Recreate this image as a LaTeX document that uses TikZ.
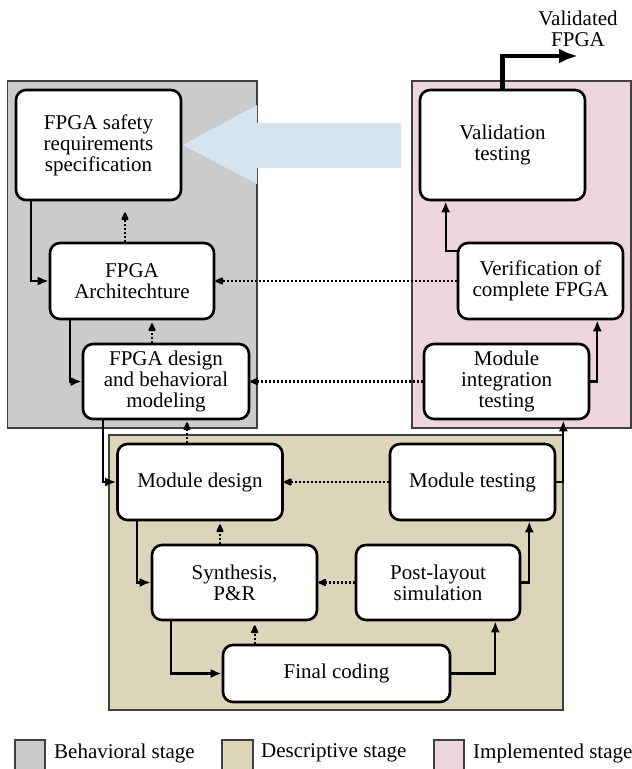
\documentclass[tikz,border=0pt]{standalone}
\usepackage{fontspec}
\setmainfont{Liberation Serif}
\usetikzlibrary{arrows.meta,calc}
\newcommand\nfont{\fontsize{21}{21}\selectfont}
\definecolor{behgray}{RGB}{203,203,203}
\definecolor{destan}{RGB}{220,213,186}
\definecolor{imppink}{RGB}{237,213,220}
\definecolor{bluearr}{RGB}{214,228,240}
\begin{document}
\begin{tikzpicture}[x=1pt,y=-1pt,
  box/.style={draw, line width=2.6pt, rounded corners=10pt, fill=white, align=center, inner sep=0pt, font=\nfont},
  stage/.style={draw=black!75, line width=1.1pt},
  conn/.style={line width=2.2pt, -{Latex[length=11pt,width=9pt]}},
  dotconn/.style={line width=2.2pt, dash pattern=on 2pt off 2pt, -{Latex[length=11pt,width=9pt,round=false]}, shorten >=3pt},
  lbl/.style={font=\nfont, inner sep=0pt, align=center}
]
\useasboundingbox (0,0) rectangle (632,769);
% stage areas
\fill[white] (0,0) rectangle (632,769);
\draw[stage, fill=behgray] (7.5,81) rectangle (257,428);
\draw[stage, fill=imppink] (412,81) rectangle (631,428);
\draw[stage, fill=destan] (109,435) rectangle (563,710);
% blue arrow
\fill[bluearr] (401,123) -- (257,123) -- (257,105) -- (183,145) -- (257,184) -- (257,168) -- (401,168) -- cycle;

% nodes
\node[box, minimum width=165pt, minimum height=110pt] (spec) at (98.5,145) {FPGA safety\\requirements\\specification};
\node[box, minimum width=164pt, minimum height=76pt] (arch) at (132,281) {FPGA\\Architechture};
\node[box, minimum width=166pt, minimum height=75pt] (design) at (166,381.5) {FPGA design\\and behavioral\\modeling};
\node[box, minimum width=165pt, minimum height=110pt] (valid) at (502.5,145) {Validation\\testing};
\node[box, minimum width=165pt, minimum height=76pt] (verif) at (540.5,281) {Verification of\\complete FPGA};
\node[box, minimum width=165pt, minimum height=75pt] (mit) at (506.5,381.5) {Module\\integration\\testing};
\node[box, minimum width=165pt, minimum height=76pt] (moddesign) at (200,482) {Module design};
\node[box, minimum width=165pt, minimum height=76pt] (modtest) at (472.5,482) {Module testing};
\node[box, minimum width=165pt, minimum height=75pt] (synth) at (234.5,582.5) {Synthesis,\\P\&R};
\node[box, minimum width=164pt, minimum height=75pt] (post) at (438,582.5) {Post-layout\\simulation};
\node[box, minimum width=227pt, minimum height=57pt] (final) at (336.5,673.5) {Final coding};

% output
\coordinate (out) at (578,56);
\node[lbl] (outlbl) at (578,29) {Validated\\FPGA};
\draw[line width=4.2pt, -{Latex[length=19pt,width=15pt]}] (valid.north) |- (out);

% behavioral connectors
\draw[conn] ([xshift=16pt]spec.south west) |- (arch.west);
\draw[dotconn, shorten >=11pt] ([xshift=-7pt]arch.north) -- ([xshift=-7pt]arch.north |- spec.south);
\draw[conn] ([xshift=21pt]arch.south west) |- (design.west);
\draw[dotconn] ([xshift=-14pt]design.north) -- ([xshift=-14pt]design.north |- arch.south);
\draw[dotconn, shorten >=0pt] (verif.west) -- (arch.east);
\draw[dotconn, shorten >=0pt] (mit.west) -- (design.east);

% implemented connectors
\draw[conn] ([yshift=-9pt]verif.north west) -| ([xshift=27pt]valid.south west);
\draw[conn] (mit.east) -| ([xshift=-27pt]verif.south east);

% descriptive connectors
\draw[conn] ([xshift=21pt]design.south west) |- (moddesign.west);
\draw[dotconn, shorten >=2pt] ([xshift=-13pt]moddesign.north) -- ([xshift=-13pt]moddesign.north |- design.south);
\draw[conn] (modtest.east) -| ([xshift=-27pt]mit.south east);
\draw[dotconn, shorten >=0pt] (modtest.west) -- (moddesign.east);
\draw[conn] ([xshift=21pt]moddesign.south west) |- (synth.west);
\draw[dotconn] ([xshift=-14.5pt]synth.north) -- ([xshift=-14.5pt]synth.north |- moddesign.south);
\draw[dotconn, shorten >=0pt] (post.west) -- (synth.east);
\draw[conn] (post.east) -| ([xshift=-27pt]modtest.south east);
\draw[conn] ([xshift=20pt]synth.south west) |- (final.west);
\draw[dotconn, shorten >=4pt] ([xshift=33pt]final.north west) -- ([xshift=33pt]final.north west |- synth.south);
\draw[conn] (final.east) -| ([xshift=-26pt]post.south east);

% legend
\draw[stage, fill=behgray] (15,740) rectangle (45,772);
\node[lbl, anchor=west] (lg1) at (54,753) {Behavioral stage};
\draw[stage, fill=destan] (222,740) rectangle (253,772);
\node[lbl, anchor=west] (lg2) at (261,753) {Descriptive stage};
\draw[stage, fill=imppink] (434,740) rectangle (464,772);
\node[lbl, anchor=west] (lg3) at (473,753) {Implemented stage};
\end{tikzpicture}
\end{document}
